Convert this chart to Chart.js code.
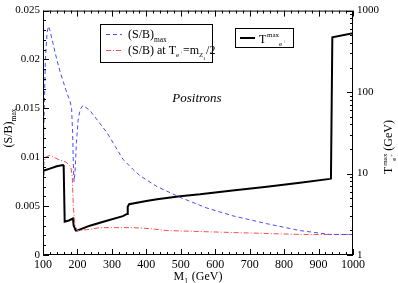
<!DOCTYPE html>
<html>
<head>
<meta charset="utf-8">
<script src="https://cdn.jsdelivr.net/npm/chart.js@4/dist/chart.umd.min.js"></script>
<style>
  html, body { margin: 0; padding: 0; background: #fff; }
  canvas { display: block; }
  #f { font-family: "Liberation Serif"; position: absolute; left: -1000px; }
</style>
</head>
<body>
<canvas id="c" width="398" height="283"></canvas>
<div id="f">Positrons <i>Positrons</i></div>
<script>
// (S/B)_max, left axis
var sbMaxM = [100, 103, 107, 112, 116, 120, 130, 140, 150, 160, 170, 178, 183, 186, 188, 190, 193, 197, 202, 208, 216, 236, 260, 286, 310, 332, 360, 382, 431, 498, 576, 652, 750, 846, 933, 1000];
var sbMaxVal = [0.0085, 0.0140, 0.0200, 0.0228, 0.0234, 0.0230, 0.0215, 0.0200, 0.0187, 0.0176, 0.0165, 0.0158, 0.0150, 0.0125, 0.0095, 0.0075, 0.0085, 0.0115, 0.0138, 0.0149, 0.0153, 0.0148, 0.0137, 0.0125, 0.0111, 0.0098, 0.0088, 0.0081, 0.0070, 0.0059, 0.0048, 0.0040, 0.0032, 0.0025, 0.0021, 0.0021];

// (S/B) at T = mZ1/2, left axis
var sbHalfM = [100, 103, 107, 120, 143, 167, 181, 185, 188, 192, 200, 230, 265, 310, 362, 410, 460, 556, 650, 750, 850, 1000];
var sbHalfVal = [0.0080, 0.0095, 0.0100, 0.0102, 0.0098, 0.0095, 0.0090, 0.0080, 0.0050, 0.0032, 0.0025, 0.0026, 0.0028, 0.0028, 0.0028, 0.0027, 0.0025, 0.0024, 0.0023, 0.0022, 0.0021, 0.0021];

// T^max_e+ (GeV), right log axis
var tMaxM = [100, 101, 120, 140, 158, 160, 163, 175, 187, 189, 195, 200, 236, 280, 332, 344, 346, 350, 400, 431, 498, 556, 650, 750, 846, 933, 936, 940, 1000];
var tMaxVal = [9.8, 10.8, 11.5, 12.3, 12.7, 12.5, 2.56, 2.65, 2.8, 2.3, 2.0, 2.0, 2.29, 2.6, 3.0, 3.19, 3.9, 4.2, 4.6, 4.83, 5.25, 5.55, 6.2, 6.9, 7.7, 8.6, 8.7, 470, 526];

var xTicks = [100, 200, 300, 400, 500, 600, 700, 800, 900, 1000];
var rightTicks = [1, 10, 100, 1000];

var FONT = '"Liberation Serif", "DejaVu Serif", serif';
Chart.defaults.font.family = FONT;
Chart.defaults.font.size = 11;
Chart.defaults.color = '#000';

function pts(xs, ys) {
    return xs.map(function (v, i) { return { x: v, y: ys[i] }; });
}

// text with small sub / superscripts
function richWidth(ctx, parts, size) {
    var w = 0;
    parts.forEach(function (p) {
        var s = p[1] ? size * 0.62 : size;
        ctx.font = s + 'px ' + FONT;
        w += ctx.measureText(p[0]).width + (p[2] || 0);
    });
    return w;
}
function drawRich(ctx, parts, x, y, size) {
    parts.forEach(function (p) {
        var s = size, dy = 0;
        if (p[1] == 'sub') { s = size * 0.62; dy = size * 0.3; }
        if (p[1] == 'sup') { s = size * 0.62; dy = -size * 0.4; }
        ctx.font = s + 'px ' + FONT;
        ctx.fillText(p[0], x, y + dy);
        x += ctx.measureText(p[0]).width + (p[2] || 0);
    });
}

var framePlugin = {
    id: 'frame',
    afterDraw: function (chart) {
        var ctx = chart.ctx, a = chart.chartArea, sc = chart.scales;
        ctx.save();
        ctx.strokeStyle = '#000';
        ctx.lineWidth = 1;
        ctx.strokeRect(a.left + 0.5, a.top + 0.5, a.right - a.left - 1, a.bottom - a.top - 1);

        ctx.beginPath();
        // x ticks top and bottom
        for (var v = 100; v <= 1000; v += 20) {
            var px = Math.round(sc.x.getPixelForValue(v)) + 0.5;
            var len = (v % 100 == 0) ? 6 : 3;
            ctx.moveTo(px, a.bottom); ctx.lineTo(px, a.bottom - len);
            ctx.moveTo(px, a.top); ctx.lineTo(px, a.top + len);
        }
        // left linear ticks
        for (var i = 0; i <= 25; i++) {
            var py = Math.round(sc.y.getPixelForValue(i * 0.001)) + 0.5;
            var l2 = (i % 5 == 0) ? 6 : 3;
            ctx.moveTo(a.left, py); ctx.lineTo(a.left + l2, py);
        }
        // right log ticks
        [1, 10, 100].forEach(function (d) {
            for (var k = 1; k <= 9; k++) {
                var py2 = Math.round(sc.y1.getPixelForValue(k * d)) + 0.5;
                var l3 = (k == 1) ? 6 : 3;
                ctx.moveTo(a.right, py2); ctx.lineTo(a.right - l3, py2);
            }
        });
        var pyTop = Math.round(sc.y1.getPixelForValue(1000)) + 0.5;
        ctx.moveTo(a.right, pyTop); ctx.lineTo(a.right - 6, pyTop);
        ctx.stroke();

        ctx.fillStyle = '#000';
        ctx.textBaseline = 'alphabetic';
        ctx.textAlign = 'left';

        // x title
        var xt = [['M', ''], ['1', 'sub', 1], [' (GeV)', '']];
        var w = richWidth(ctx, xt, 12);
        drawRich(ctx, xt, (a.left + a.right) / 2 - w / 2, 280, 12);

        // left title
        ctx.save();
        ctx.translate(12, 128);
        ctx.rotate(-Math.PI / 2);
        var lt = [['(S/B)', ''], ['max', 'sub']];
        w = richWidth(ctx, lt, 12);
        drawRich(ctx, lt, -w / 2, 0, 12);
        ctx.restore();

        // right title
        ctx.save();
        ctx.translate(392, 150);
        ctx.rotate(-Math.PI / 2);
        var x0 = -24;
        ctx.font = '12px ' + FONT;
        ctx.fillText('T', x0, 0);
        var tw = ctx.measureText('T').width;
        ctx.font = '7px ' + FONT;
        ctx.fillText('max', x0 + tw + 1, -5);
        ctx.fillText('e', x0 + tw + 6, 4);
        ctx.font = '5px ' + FONT;
        ctx.fillText('+', x0 + tw + 10, 1);
        ctx.font = '12px ' + FONT;
        ctx.fillText('(GeV)', x0 + tw + 16, 0);
        ctx.restore();

        // Positrons
        ctx.font = 'italic 13px ' + FONT;
        ctx.textAlign = 'center';
        ctx.fillText('Positrons', 197, 102);
        ctx.textAlign = 'left';

        // legend 1
        ctx.lineWidth = 1;
        ctx.strokeStyle = '#000';
        ctx.strokeRect(100.5, 24.5, 112, 38);
        ctx.beginPath();
        ctx.strokeStyle = '#4b4bff';
        ctx.setLineDash([4, 3]);
        ctx.moveTo(106, 34.5); ctx.lineTo(122, 34.5);
        ctx.stroke();
        ctx.beginPath();
        ctx.strokeStyle = '#ff4b4b';
        ctx.setLineDash([5, 2, 1, 2]);
        ctx.moveTo(106, 50.5); ctx.lineTo(122, 50.5);
        ctx.stroke();
        ctx.setLineDash([]);
        drawRich(ctx, [['(S/B)', ''], ['max', 'sub']], 128, 38, 12);
        ctx.font = '12px ' + FONT;
        ctx.fillText('(S/B) at T', 128, 54);
        var ww = 128 + ctx.measureText('(S/B) at T').width;
        ctx.font = '7px ' + FONT;
        ctx.fillText('e', ww, 57);
        ctx.font = '5px ' + FONT;
        ctx.fillText('+', ww + 4, 54);
        ctx.font = '12px ' + FONT;
        ctx.fillText('=m', ww + 7, 54);
        ww += 7 + ctx.measureText('=m').width;
        ctx.font = '7px ' + FONT;
        ctx.fillText('Z', ww, 57);
        ctx.font = '5px ' + FONT;
        ctx.fillText('1', ww + 4, 60);
        ctx.font = '12px ' + FONT;
        ctx.fillText('/2', ww + 7, 54);

        // legend 2
        ctx.strokeStyle = '#000';
        ctx.strokeRect(235.5, 28.5, 58, 19);
        ctx.beginPath();
        ctx.lineWidth = 2;
        ctx.moveTo(240, 38); ctx.lineTo(255, 38);
        ctx.stroke();
        ctx.font = '12px ' + FONT;
        ctx.fillText('T', 259, 43);
        ctx.font = '7px ' + FONT;
        ctx.fillText('max', 267, 37);
        ctx.fillText('e', 279, 46);
        ctx.font = '5px ' + FONT;
        ctx.fillText('+', 283, 43);
        ctx.restore();
    }
};

function makeChart() {
    new Chart(document.getElementById('c'), {
        type: 'scatter',
        data: {
            datasets: [
                {
                    data: pts(sbMaxM, sbMaxVal), yAxisID: 'y', showLine: true, pointRadius: 0,
                    borderColor: '#4b4bff', borderWidth: 1, borderDash: [4, 3], tension: 0
                },
                {
                    data: pts(sbHalfM, sbHalfVal), yAxisID: 'y', showLine: true, pointRadius: 0,
                    borderColor: '#ff4b4b', borderWidth: 1, borderDash: [5, 2, 1, 2], tension: 0
                },
                {
                    data: pts(tMaxM, tMaxVal), yAxisID: 'y1', showLine: true, pointRadius: 0,
                    borderColor: '#000', borderWidth: 2, tension: 0
                }
            ]
        },
        options: {
            responsive: false,
            animation: false,
            devicePixelRatio: 1,
            layout: { padding: { top: 5, left: 0, right: 0, bottom: 0 } },
            plugins: { legend: { display: false }, tooltip: { enabled: false } },
            scales: {
                x: {
                    type: 'linear', min: 100, max: 1000,
                    grid: { display: false, drawTicks: false },
                    border: { display: false },
                    afterBuildTicks: function (s) { s.ticks = xTicks.map(function (v) { return { value: v }; }); },
                    ticks: { padding: 3, font: { size: 12 }, maxRotation: 0, autoSkip: false,
                        callback: function (v) { return String(v); } },
                    afterFit: function (s) { s.height = 28; }
                },
                y: {
                    type: 'linear', position: 'left', min: 0, max: 0.025,
                    grid: { display: false, drawTicks: false },
                    border: { display: false },
                    ticks: {
                        stepSize: 0.005, padding: 3,
                        callback: function (v) { return v === 0 ? '0' : String(+v.toFixed(3)); }
                    },
                    afterFit: function (s) { s.width = 43; }
                },
                y1: {
                    type: 'logarithmic', position: 'right', min: 1, max: 1000,
                    grid: { display: false, drawTicks: false },
                    border: { display: false },
                    afterBuildTicks: function (s) { s.ticks = rightTicks.map(function (v) { return { value: v }; }); },
                    ticks: { padding: 4, autoSkip: false, callback: function (v) { return String(v); } },
                    afterFit: function (s) { s.width = 45; }
                }
            }
        },
        plugins: [framePlugin]
    });
}

if (document.fonts && document.fonts.load) {
    Promise.all([
        document.fonts.load('12px "Liberation Serif"'),
        document.fonts.load('italic 13px "Liberation Serif"')
    ]).then(makeChart, makeChart);
} else {
    makeChart();
}
</script>
</body>
</html>
